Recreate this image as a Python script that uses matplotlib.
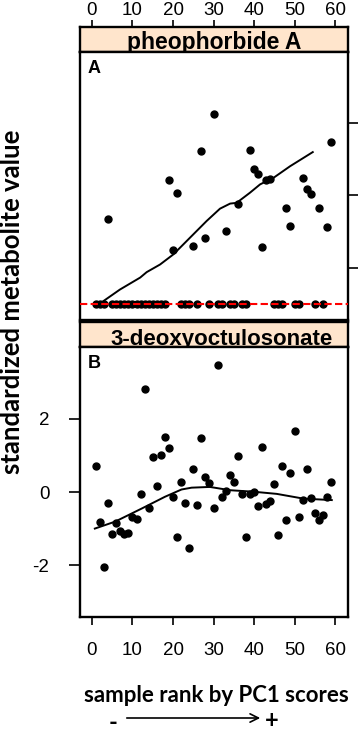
import matplotlib
matplotlib.use("Agg")
import matplotlib.pyplot as plt

# sample rank by PC1 score
rank = list(range(1, 60))

# pheophorbide A (standardized, zero = below detection)
pheo = [0, 0, 0, 2.34, 0, 0, 0, 0, 0, 0,
        0, 0, 0, 0, 0, 0, 0, 0, 3.41, 1.50,
        3.06, 0, 0, 0, 1.59, 0, 4.21, 1.83, 0, 5.23,
        0, 0, 2.01, 0, 0, 2.75, 0, 0, 4.26, 3.73,
        3.59, 1.57, 3.43, 3.44, 0, 0, 0, 2.65, 2.15, 0,
        0, 3.48, 3.17, 3.03, 0, 2.65, 0, 2.12, 4.46]

# 3-deoxyoctulosonate
deoxy = [0.70, -0.81, -2.05, -0.31, -1.15, -0.84, -1.07, -1.15, -1.11, -0.68,
         -0.74, -0.04, 2.82, -0.43, 0.95, 0.16, 1.01, 1.50, 1.21, -0.13,
         -1.22, 0.28, -0.31, -1.53, 0.63, -0.35, 1.47, 0.42, 0.26, -0.45,
         3.49, -0.14, 0.04, 0.46, 0.27, 0.98, -0.04, -1.22, -0.04, 0.01,
         -0.37, 1.22, -0.34, -0.24, 0.21, -1.18, 0.70, -0.77, 0.53, 1.67,
         -0.68, -0.22, 0.63, -0.17, -0.58, -0.77, -0.63, -0.13, 0.27]

# smoother curves
pheo_fit_x = [2.0, 2.8, 6.9, 11.9, 13.5, 16.8, 20.1, 25.0, 28.3, 31.6,
              34.1, 35.7, 39.0, 41.5, 44.8, 48.9, 54.5]
pheo_fit_y = [0.0, 0.08, 0.40, 0.73, 0.88, 1.09, 1.37, 1.92, 2.29, 2.63,
              2.77, 2.79, 3.07, 3.30, 3.48, 3.80, 4.19]
deoxy_fit_x = [0.7, 5.7, 12.3, 18.0, 22.1, 24.6, 29.1, 34.1, 39.8, 45.6, 52.2, 59.2]
deoxy_fit_y = [-1.00, -0.81, -0.45, -0.13, 0.07, 0.12, 0.14, 0.05, 0.01, -0.05, -0.18, -0.22]

x_ticks = [0, 10, 20, 30, 40, 50, 60]
strip_col = "#FFE5CC"
xlim = (-2.96, 63.2)

plt.rcParams["font.family"] = ["Liberation Sans", "DejaVu Sans"]
plt.rcParams["axes.unicode_minus"] = False

W, H = 358, 734
fig = plt.figure(figsize=(W / 100, H / 100), dpi=100)


def box(x0, y0, x1, y1):
    # pixel box -> figure fraction
    return [x0 / W, 1 - y1 / H, (x1 - x0) / W, (y1 - y0) / H]


ax_s1 = fig.add_axes(box(80, 27, 348, 52))
ax1 = fig.add_axes(box(80, 52, 348, 320))
ax_s2 = fig.add_axes(box(80, 322, 348, 347))
ax2 = fig.add_axes(box(80, 347, 348, 617))

for a in (ax_s1, ax1, ax_s2, ax2):
    a.set_xlim(*xlim)
    for sp in a.spines.values():
        sp.set_linewidth(1.7)
    a.tick_params(width=1.2, labelsize=13.5, direction="out")

# strips
for a, title, xc, fs in ((ax_s1, "pheophorbide A", 0.5, 16.5),
                         (ax_s2, "3-deoxyoctulosonate", 0.53, 16)):
    a.set_facecolor(strip_col)
    a.set_ylim(0, 1)
    a.set_yticks([])
    a.text(xc, 0.1, title, transform=a.transAxes, ha="center", va="baseline",
           fontsize=fs, fontweight="bold")
ax_s2.set_xticks([])
ax_s1.xaxis.tick_top()
ax_s1.set_xticks(x_ticks)
ax_s1.tick_params(axis="x", length=5, pad=1)

# panel A
ax1.plot(rank, pheo, "o", color="black", ms=5, zorder=2)
ax1.plot(pheo_fit_x, pheo_fit_y, color="black", lw=1.4, zorder=3)
ax1.axhline(0, color="red", lw=1.5, dashes=(3.5, 1.6), zorder=4)
ax1.set_ylim(-0.44, 6.95)
ax1.set_xticks([])
ax1.yaxis.tick_right()
ax1.set_yticks([1, 3, 5])
ax1.tick_params(axis="y", length=7, labelright=False)
ax1.text(0.03, 0.97, "A", transform=ax1.transAxes, ha="left", va="top",
         fontsize=13, fontweight="bold")

# panel B
ax2.plot(rank, deoxy, "o", color="black", ms=5, zorder=2)
ax2.plot(deoxy_fit_x, deoxy_fit_y, color="black", lw=1.4, zorder=3)
ax2.set_ylim(-3.42, 3.97)
ax2.set_yticks([-2, 0, 2])
ax2.set_xticks(x_ticks)
ax2.tick_params(axis="y", length=8, pad=14)
ax2.tick_params(axis="x", length=6, pad=12)
ax2.text(0.03, 0.97, "B", transform=ax2.transAxes, ha="left", va="top",
         fontsize=13, fontweight="bold")

# outer labels
fig.text(12 / W, 1 - 302 / H, "standardized metabolite value", rotation=90,
         ha="center", va="center", fontsize=18.5, fontweight="bold", family="Lato")
fig.text(216 / W, 1 - 696 / H, "sample rank by PC1 scores", ha="center", va="center",
         fontsize=16, fontweight="bold", family="Lato")
fig.text(113 / W, 1 - 723 / H, "-", ha="center", va="center", fontsize=17,
         fontweight="bold", family="Lato")
fig.text(272 / W, 1 - 721 / H, "+", ha="center", va="center", fontsize=17,
         fontweight="bold", family="Lato")
fig.add_artist(matplotlib.patches.FancyArrowPatch(
    (124 / W, 1 - 718 / H), (263 / W, 1 - 718 / H), transform=fig.transFigure,
    arrowstyle="->,head_length=6,head_width=3", color="black", lw=1.2))

fig.savefig("out.png", dpi=100)
